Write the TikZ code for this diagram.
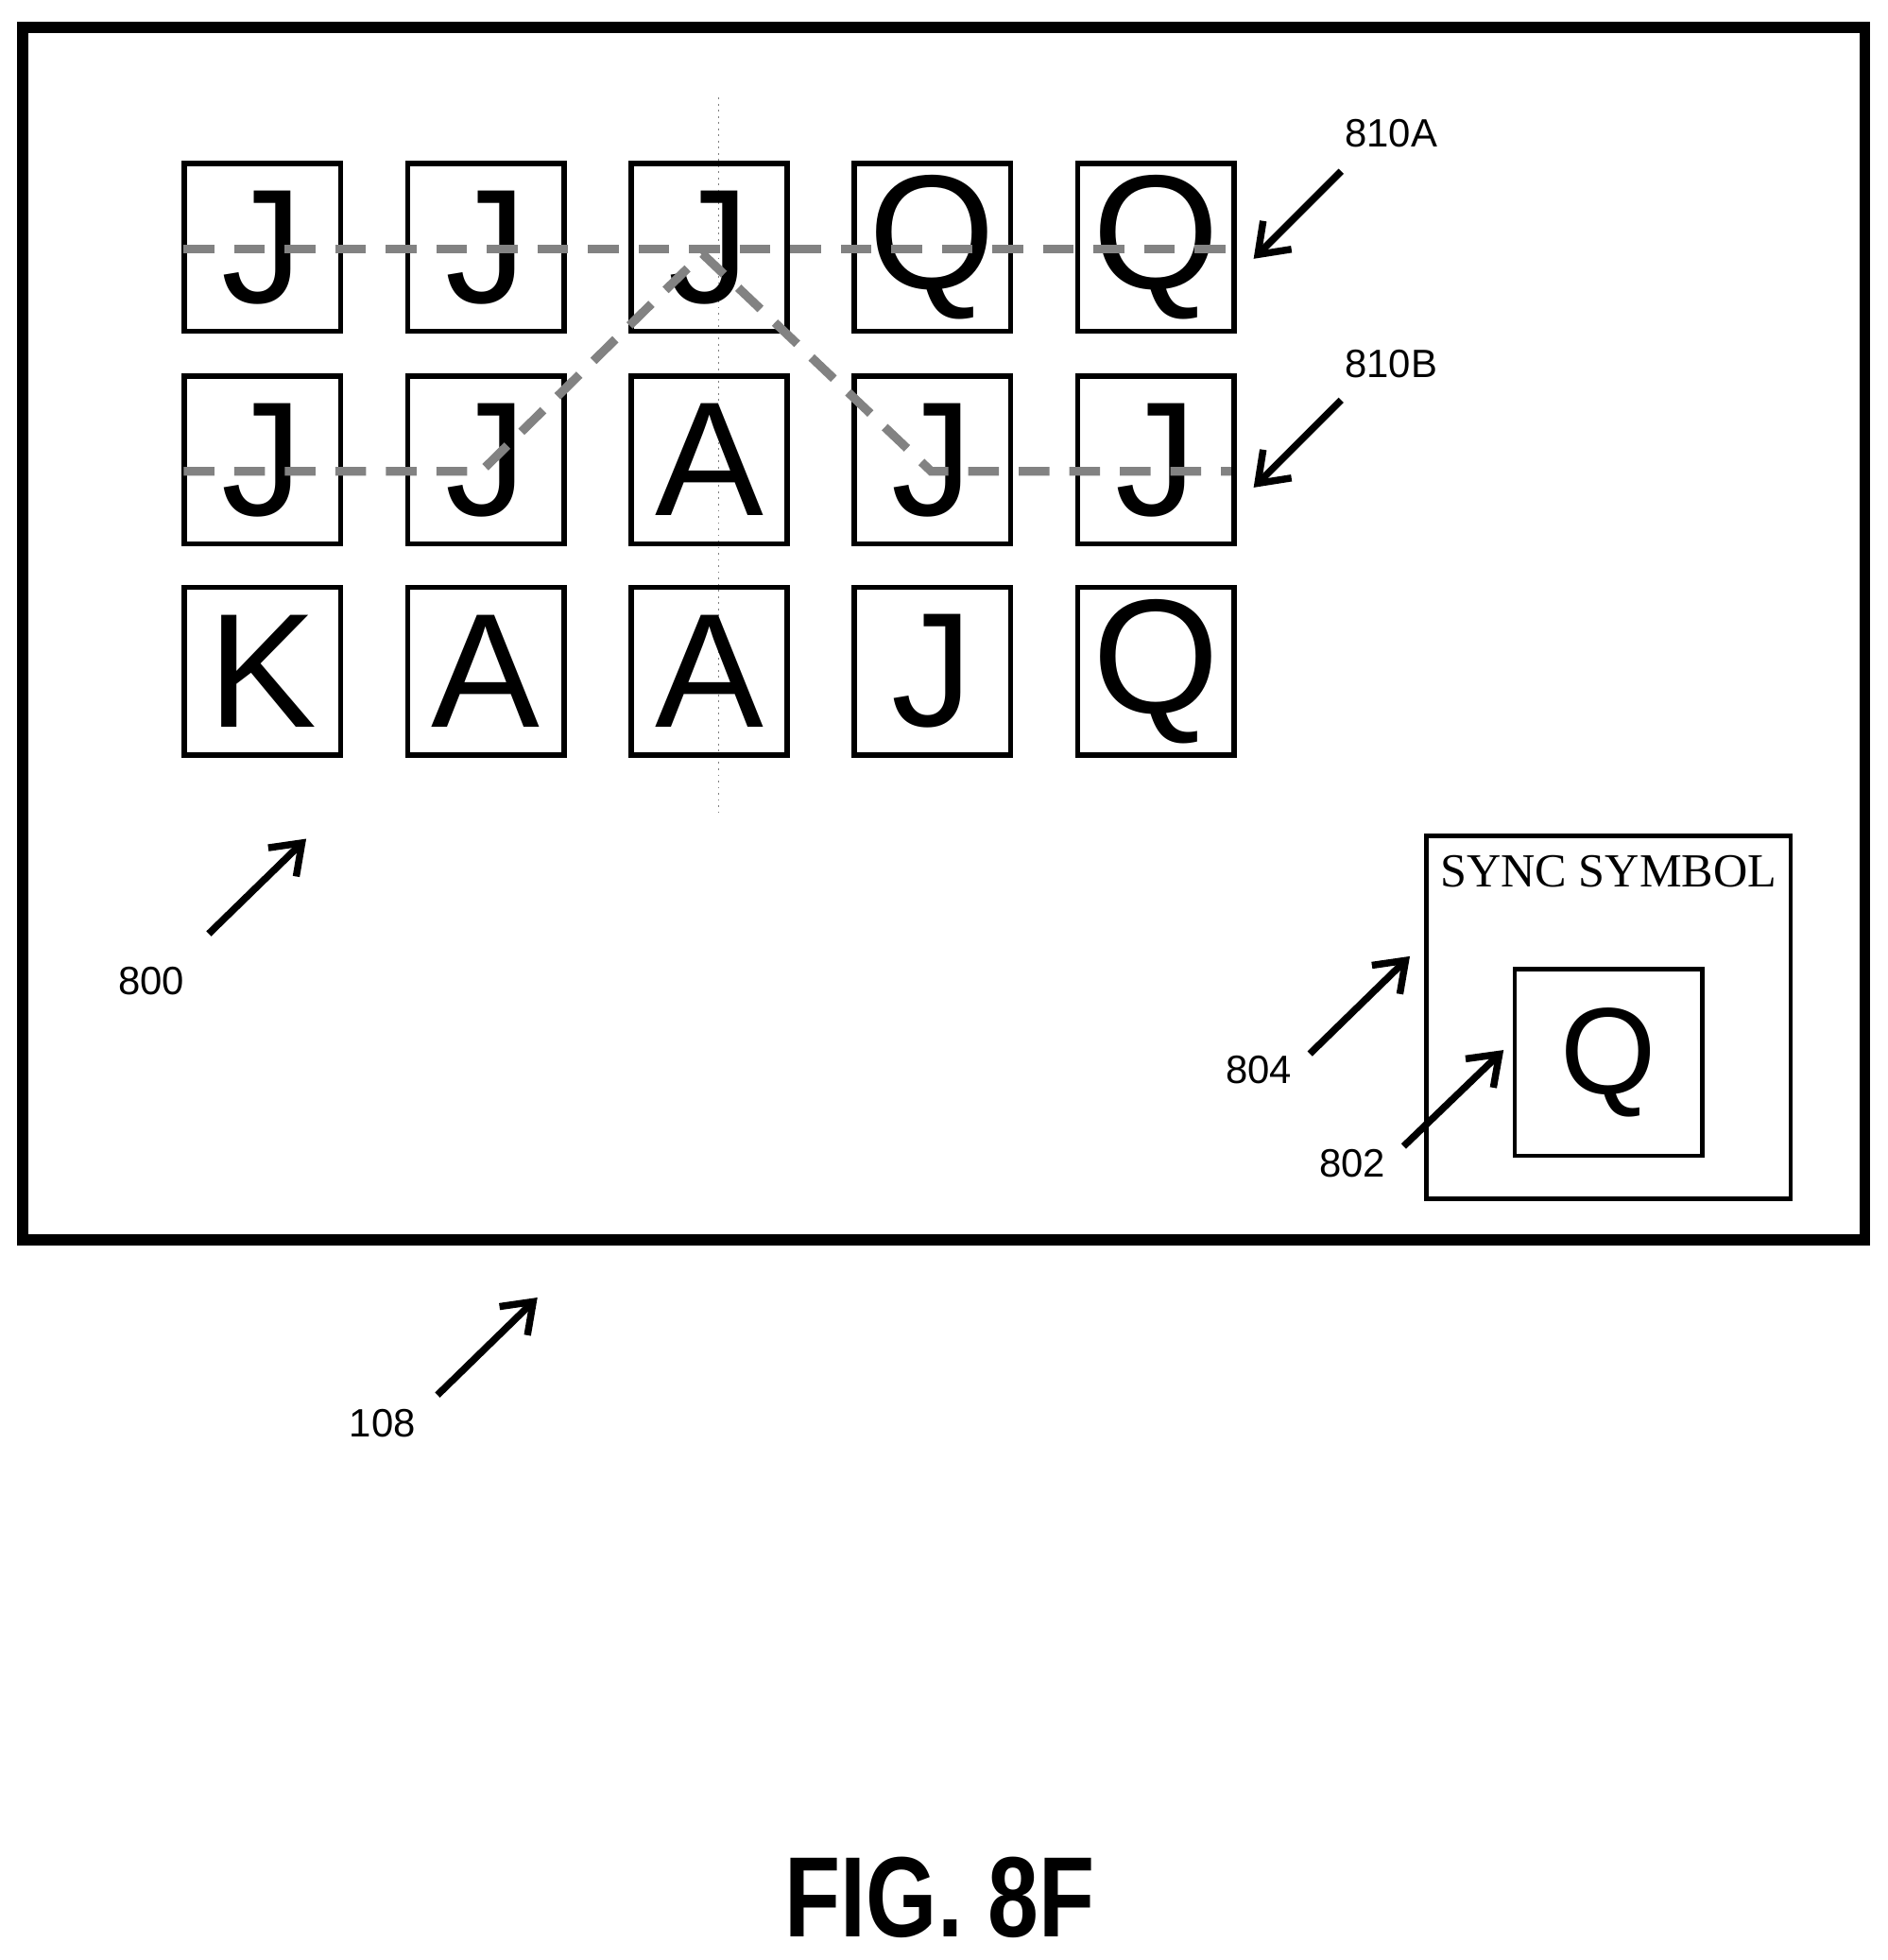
\documentclass[tikz,border=0pt]{standalone}
\usepackage{fontspec}
\setmainfont{Liberation Sans}
\newfontfamily\seriffont{Liberation Serif}
\usetikzlibrary{arrows.meta}
\definecolor{dashg}{RGB}{130,130,130}
\begin{document}
\begin{tikzpicture}[x=0.01cm,y=-0.01cm,
    tile/.style={draw, line width=1.2pt, minimum width=1.25cm, minimum height=1.34cm, inner sep=0pt, font=\fontsize{37}{37}\selectfont},
    lbl/.style={font=\fontsize{9}{9}\selectfont},
    ptr/.style={line width=1.6pt, -{Straight Barb[length=2.2mm,width=3.2mm]}},
    path810/.style={dashg, line width=2pt, dash pattern=on 7pt off 4.5pt}]
                    \useasboundingbox (0,0) rectangle (1510,1568);
                    \draw[line width=2.5pt] (18,22) rectangle (1492,992);
                    \draw[gray, densely dotted, thin] (575,78) -- (575,652);
                    \foreach \r/\y/\row in {1/198/{J,J,J,Q,Q},2/368/{J,J,A,J,J},3/537/{K,A,A,J,Q}}
                        \foreach \s [count=\c] in \row
                            {\node[tile] (t\r\c) at ({210+(\c-1)*178.7},\y) {\s};}
                    % winning lines
                    \draw[path810] (147,199) -- (985,199);
                    \draw[path810] (147,377) -- (385,377) -- (562,203) -- (745,377) -- (985,377);
                    % sync symbol
                    \node[draw, line width=1pt, minimum width=2.91cm, minimum height=2.9cm] (sync) at (1287,814) {};
                    \node[font=\seriffont\fontsize{10.8}{10.8}\selectfont] (synct) at (1287,697) {SYNC SYMBOL};
                    \node[draw, line width=1pt, minimum width=1.5cm, minimum height=1.49cm, inner sep=0pt, font=\fontsize{28}{28}\selectfont] (symq) at (1287,850) {Q};
                    % reference numerals
                    \node[lbl] (n810a) at (1113,107) {810A};
                    \node[lbl] (n810b) at (1113,291) {810B};
                    \node[lbl] (n800) at (121,785) {800};
                    \node[lbl] (n804) at (1007,856) {804};
                    \node[lbl] (n802) at (1082,931) {802};
                    \node[lbl] (n108) at (306,1139) {108};
                    \coordinate (e810a) at (1003,207); \coordinate (e810b) at (1003,390);
                    \coordinate (e800) at (245,671); \coordinate (e804) at (1128,765);
                    \coordinate (e802) at (1203,840); \coordinate (e108) at (430,1038);
                    \draw[ptr] (1073,137) -- (e810a);
                    \draw[ptr] (1073,320) -- (e810b);
                    \draw[ptr] (167,747) -- (e800);
                    \draw[ptr] (1048,843) -- (e804);
                    \draw[ptr] (1123,917) -- (e802);
                    \draw[ptr] (350,1116) -- (e108);
                    \node[font=\bfseries\fontsize{26}{26}\selectfont, xscale=0.8] (fig) at (752,1518) {FIG. 8F};
\end{tikzpicture}
\end{document}
